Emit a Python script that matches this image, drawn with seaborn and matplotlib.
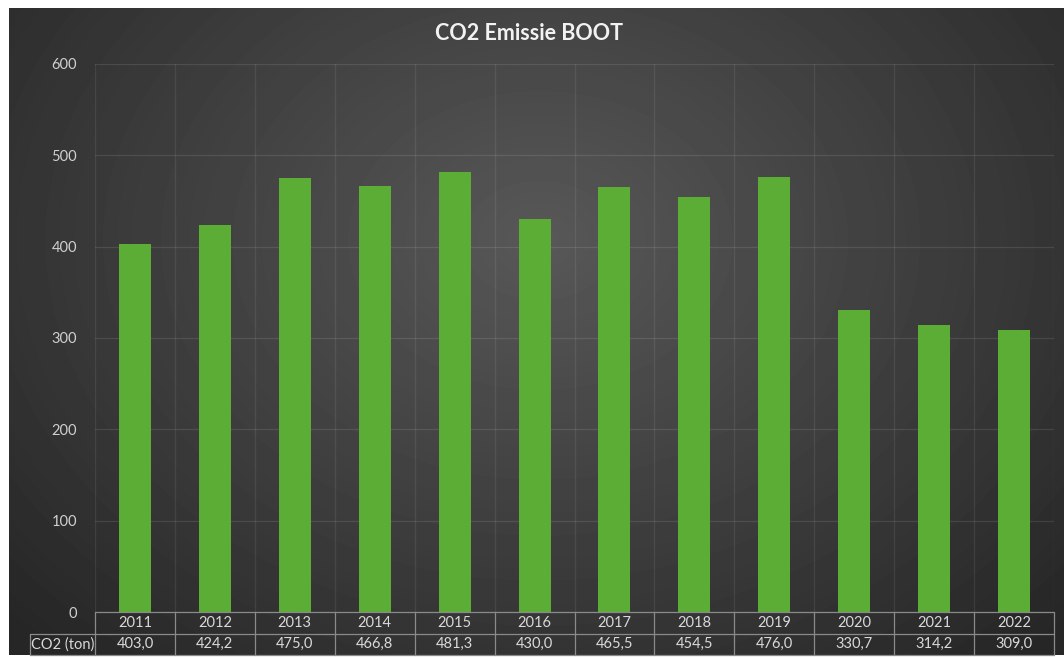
import numpy as np
import pandas as pd
import matplotlib
matplotlib.use('Agg')
import matplotlib.pyplot as plt
import seaborn as sns
from matplotlib.transforms import blended_transform_factory

# ---- data ----
years = ['2011', '2012', '2013', '2014', '2015', '2016',
         '2017', '2018', '2019', '2020', '2021', '2022']
co2 = [403.0, 424.2, 475.0, 466.8, 481.3, 430.0,
       465.5, 454.5, 476.0, 330.7, 314.2, 309.0]
row_label = 'CO2 (ton)'
title = 'CO2 Emissie BOOT'
yticks = [0, 100, 200, 300, 400, 500, 600]

sns.set_theme(style='dark')
plt.rcParams['font.family'] = ['Lato', 'DejaVu Sans']

W, H = 1064, 657
fig = plt.figure(figsize=(W / 100, H / 100), dpi=100, facecolor='white')

# ---- radial gradient chart area (white margin top/left/bottom) ----
x0, y0, x1, y1 = 9, 8, 1064, 655
bg = fig.add_axes([x0 / W, 1 - y1 / H, (x1 - x0) / W, (y1 - y0) / H])
bg.set_axis_off()
yy, xx = np.mgrid[y0:y1, x0:x1]
r = np.sqrt(((xx - 540) / 720.0) ** 2 + ((yy - 240) / 560.0) ** 2)
v = 0.345 - (0.345 - 0.15) * np.clip(r, 0, 1)
bg.imshow(v, cmap='gray', vmin=0, vmax=1, aspect='auto',
          extent=[0, 1, 0, 1], origin='upper', interpolation='bilinear')
bg.set_xlim(0, 1)
bg.set_ylim(0, 1)

# ---- main axes ----
ax = fig.add_axes([95 / W, 1 - 612 / H, 959 / W, 548 / H])
ax.patch.set_alpha(0)
df = pd.DataFrame({'year': years, 'co2': co2})
sns.barplot(data=df, x='year', y='co2', color='#5BAD35', width=0.4,
            saturation=1, linewidth=0, ax=ax, zorder=3)
ax.set_ylim(0, 600)
ax.set_xlim(-0.5, len(years) - 0.5)
ax.set_yticks(yticks)
ax.set_yticklabels([str(t) for t in yticks], color='#d0d0d0', fontsize=10.5)
ax.set_xticks(np.arange(-0.5, len(years), 1.0), minor=True)
ax.tick_params(axis='x', which='both', labelbottom=False, length=0)
ax.tick_params(axis='y', length=0, pad=13)
ax.set_xlabel('')
ax.set_ylabel('')
ax.set_axisbelow(True)
ax.grid(axis='y', which='major', color='#ffffff', alpha=0.10, lw=0.9)
ax.grid(axis='x', which='minor', color='#ffffff', alpha=0.08, lw=0.9)
ax.grid(axis='x', which='major', visible=False)
for s in ax.spines.values():
    s.set_visible(False)

# ---- data table under the axes ----
tr = blended_transform_factory(ax.transData, ax.transAxes)
h = 21.5 / 548
n = len(years)
left_lab = -0.5 - 65 / 80
lc = '#8a8a8a'
kw = dict(transform=tr, color=lc, lw=0.9, clip_on=False, zorder=5)
ax.plot([-0.5, n - 0.5], [0, 0], **kw)
ax.plot([left_lab, n - 0.5], [-h, -h], **kw)
ax.plot([left_lab, n - 0.5], [-2 * h, -2 * h], **kw)
for k in range(n + 1):
    ax.plot([-0.5 + k, -0.5 + k], [0, -2 * h], **kw)
ax.plot([left_lab, left_lab], [-h, -2 * h], **kw)

tc = '#d9d9d9'
for i, (yr, val) in enumerate(zip(years, co2)):
    ax.text(i, -h / 2, yr, transform=tr, ha='center', va='center',
            color=tc, fontsize=10.5)
    ax.text(i, -1.5 * h, f'{val:.1f}'.replace('.', ','), transform=tr,
            ha='center', va='center', color=tc, fontsize=10.5)
ax.text((left_lab - 0.5) / 2, -1.5 * h, row_label, transform=tr,
        ha='center', va='center', color=tc, fontsize=10.5)

# ---- title ----
fig.text(529 / W, 1 - 34 / H, title, ha='center', va='center',
         fontsize=15.5, weight='bold', color='#f2f2f2')

fig.savefig('out.png', dpi=100, facecolor='white')
